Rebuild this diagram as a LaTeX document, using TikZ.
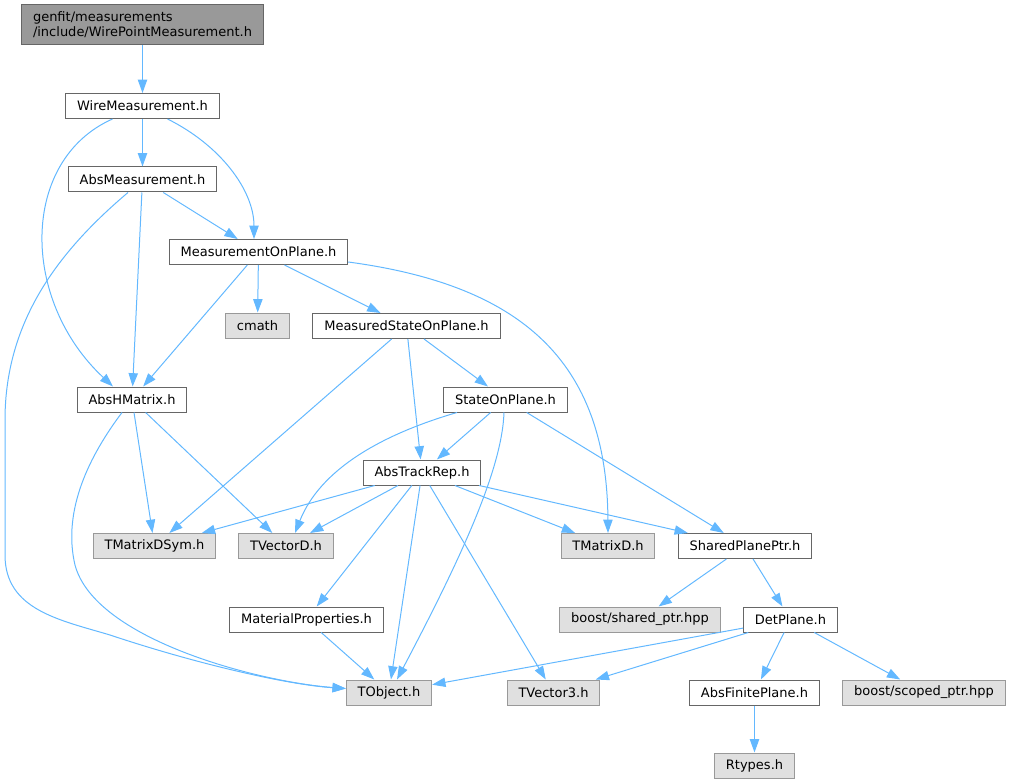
\documentclass[tikz,border=0pt]{standalone}
\usepackage{fontspec}
\setmainfont{DejaVu Sans}
\usetikzlibrary{arrows.meta, positioning, calc}

\definecolor{edgeblue}{HTML}{63B8FF}
\definecolor{boxgray}{HTML}{666666}
\definecolor{extgray}{HTML}{999999}
\definecolor{extfill}{HTML}{E0E0E0}

\begin{document}
\begin{tikzpicture}[x=0.75pt, y=-0.75pt,
    hdr/.style={draw=boxgray, fill=white, line width=0.75pt, inner xsep=8.5pt, inner ysep=0pt,
                minimum height=18.75pt, font=\fontsize{9.75}{11.25}\selectfont},
    extern/.style={hdr, draw=extgray, fill=extfill},
    rootnode/.style={hdr, fill=extgray, align=left, minimum height=30pt},
    dep/.style={draw=edgeblue, line width=0.75pt, -{Triangle[length=10pt, width=7pt]}}]
  \useasboundingbox (0,0) rectangle (1009,784);

  % Headers of the package
  \node[rootnode] (wpm) at (142.5,25) {genfit/measurements\\/include/WirePointMeasurement.h};
  \node[hdr] (wiremeas) at (142.5,106) {WireMeasurement.h};
  \node[hdr] (absmeas) at (142.5,179.5) {AbsMeasurement.h};
  \node[hdr] (measonplane) at (258.5,252) {MeasurementOnPlane.h};
  \node[hdr] (measstate) at (406.5,326) {MeasuredStateOnPlane.h};
  \node[hdr] (abshmatrix) at (132,399.5) {AbsHMatrix.h};
  \node[hdr] (stateonplane) at (505.5,399.5) {StateOnPlane.h};
  \node[hdr] (abstrackrep) at (422,472.5) {AbsTrackRep.h};
  \node[hdr] (sharedplane) at (745,546) {SharedPlanePtr.h};
  \node[hdr] (matprop) at (306.5,619.5) {MaterialProperties.h};
  \node[hdr] (detplane) at (790.5,619.5) {DetPlane.h};
  \node[hdr] (absfinite) at (754.5,692.5) {AbsFinitePlane.h};

  % External headers
  \node[extern] (cmath) at (257.5,325.5) {cmath};
  \node[extern] (tmatrixdsym) at (154.5,546) {TMatrixDSym.h};
  \node[extern] (tvectord) at (286,546) {TVectorD.h};
  \node[extern] (tmatrixd) at (608,546) {TMatrixD.h};
  \node[extern] (sharedptr) at (640,619.5) {boost/shared\_ptr.hpp};
  \node[extern] (tobject) at (389,692.5) {TObject.h};
  \node[extern] (tvector3) at (553.5,692.5) {TVector3.h};
  \node[extern] (scopedptr) at (924,692.5) {boost/scoped\_ptr.hpp};
  \node[extern] (rtypes) at (754.5,765.5) {Rtypes.h};

  % Straight dependencies
  \draw[dep] (wpm) -- (wiremeas);
  \draw[dep] (wiremeas) -- (absmeas);
  \draw[dep] (absmeas) -- (measonplane);
  \draw[dep] (absmeas) -- (abshmatrix);
  \draw[dep] (measonplane) -- (abshmatrix);
  \draw[dep] (measonplane) -- (cmath);
  \draw[dep] (measonplane) -- (measstate);
  \draw[dep] (measstate) -- (tmatrixdsym);
  \draw[dep] (measstate) -- (abstrackrep);
  \draw[dep] (measstate) -- (stateonplane);
  \draw[dep] (stateonplane) -- (abstrackrep);
  \draw[dep] (stateonplane) -- (sharedplane);
  \draw[dep] (abshmatrix) -- (tmatrixdsym);
  \draw[dep] (abshmatrix) -- (tvectord);
  \draw[dep] (abstrackrep) -- (tmatrixdsym);
  \draw[dep] (abstrackrep) -- (tvectord);
  \draw[dep] (abstrackrep) -- (tmatrixd);
  \draw[dep] (abstrackrep) -- (sharedplane);
  \draw[dep] (abstrackrep) -- (matprop);
  \draw[dep] (abstrackrep) -- (tobject);
  \draw[dep] (abstrackrep) -- (tvector3);
  \draw[dep] (matprop) -- (tobject);
  \draw[dep] (sharedplane) -- (sharedptr);
  \draw[dep] (sharedplane) -- (detplane);
  \draw[dep] (detplane) -- (tobject);
  \draw[dep] (detplane) -- (tvector3);
  \draw[dep] (detplane) -- (absfinite);
  \draw[dep] (detplane) -- (scopedptr);
  \draw[dep] (absfinite) -- (rtypes);

  % Curved dependencies
  \draw[dep] ($(wiremeas.south)+(-30,0)$) .. controls (20,160) and (20,300) .. ($(abshmatrix.north)+(-19,0)$);
  \draw[dep] ($(wiremeas.south)+(25,0)$) .. controls (220,145) and (254,190) .. ($(measonplane.north)+(-4.5,0)$);
  \draw[dep] ($(absmeas.south)+(-14.5,0)$) .. controls (60,250) and (5,320) .. (5,420) -- (5,555)
    .. controls (5,610) and (60,620) .. (110,635) .. controls (200,665) and (290,685) .. ($(tobject.west)+(0,-4)$);
  \draw[dep] ($(abshmatrix.south)+(-10,0)$) .. controls (90,455) and (62,510) .. (75,565)
    .. controls (95,640) and (260,682) .. ($(tobject.west)+(0,-4)$);
  \draw[dep] ($(measonplane.east)+(0,10)$) .. controls (520,285) and (607,360) .. (tmatrixd.north);
  \draw[dep] ($(stateonplane.south)+(-48.5,0)$) .. controls (380,435) and (320,470) .. ($(tvectord.north)+(9,0)$);
  \draw[dep] ($(stateonplane.south)+(-1.5,0)$) .. controls (502,470) and (460,560) .. ($(tobject.north)+(8,0)$);
\end{tikzpicture}
\end{document}
